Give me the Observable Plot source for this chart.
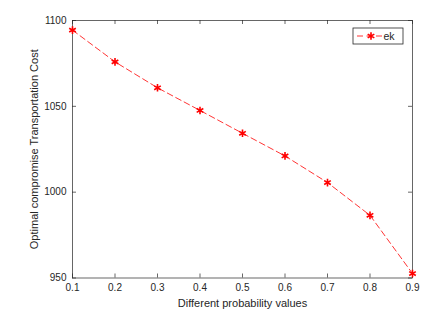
<!DOCTYPE html>
<html>
<head>
<meta charset="utf-8">
<script src="https://cdn.jsdelivr.net/npm/d3@7"></script>
<script src="https://cdn.jsdelivr.net/npm/@observablehq/plot@0.6"></script>
<style>
  html, body { margin: 0; padding: 0; background: #fff; }
</style>
</head>
<body>
<div id="chart"></div>
<script>
const probabilities = [0.1, 0.2, 0.3, 0.4, 0.5, 0.6, 0.7, 0.8, 0.9];
const costs = [1094.4, 1075.9, 1060.8, 1047.6, 1034.3, 1021.1, 1005.6, 986.5, 952.6];
const seriesName = "ek";
const xTicks = [0.1, 0.2, 0.3, 0.4, 0.5, 0.6, 0.7, 0.8, 0.9];
const yTicks = [950, 1000, 1050, 1100];
const xLabel = "Different probability values";
const yLabel = "Optimal compromise Transportation Cost";

const data = probabilities.map((p, i) => ({p, c: costs[i]}));

const W = 443, H = 325;
const mL = 72, mR = 31, mT = 20, mB = 47.5;
const plotW = W - mL - mR, plotH = H - mT - mB;
const tickLen = 4;
const axisColor = "#262626";

const chart = Plot.plot({
  width: W,
  height: H,
  marginLeft: mL,
  marginRight: mR,
  marginTop: mT,
  marginBottom: mB,
  style: {fontFamily: "'Liberation Sans', Arial, sans-serif", fontSize: "10px", background: "#fff", color: axisColor},
  x: {domain: [0.1, 0.9]},
  y: {domain: [950, 1100]},
  marks: [
    Plot.frame({stroke: axisColor, strokeWidth: 0.7}),
    Plot.axisX({ticks: xTicks, tickSize: 0, tickPadding: 5.5, tickFormat: d3.format(".1f"), label: null, fill: axisColor}),
    Plot.axisY({ticks: yTicks, tickSize: 0, tickPadding: 6, tickFormat: d3.format("d"), label: null, fill: axisColor}),
    Plot.tickX(xTicks, {x: d => d, insetTop: plotH - tickLen, stroke: axisColor, strokeWidth: 0.7}),
    Plot.tickX(xTicks, {x: d => d, insetBottom: plotH - tickLen, stroke: axisColor, strokeWidth: 0.7}),
    Plot.tickY(yTicks, {y: d => d, insetRight: plotW - tickLen, stroke: axisColor, strokeWidth: 0.7}),
    Plot.tickY(yTicks, {y: d => d, insetLeft: plotW - tickLen, stroke: axisColor, strokeWidth: 0.7}),
    Plot.text([xLabel], {frameAnchor: "bottom", dy: 25, lineAnchor: "middle", textAnchor: "middle", fontSize: 11, fill: axisColor}),
    Plot.text([yLabel], {frameAnchor: "left", dx: -38, rotate: -90, lineAnchor: "middle", textAnchor: "middle", fontSize: 11, fill: axisColor}),
    Plot.line(data, {x: "p", y: "c", stroke: "red", strokeWidth: 0.8, strokeDasharray: "6,3.5"}),
    Plot.dot(data, {x: "p", y: "c", symbol: "asterisk", r: 3.6, stroke: "red", strokeWidth: 1.6})
  ]
});

// Legend box (MATLAB style, inside top-right of axes)
const svg = d3.select(chart);
const right = W - mR;
const bx = right - 59, by = mT + 8, bw = 50, bh = 16;
const lg = svg.append("g").attr("class", "legend");
lg.append("rect").attr("x", bx).attr("y", by).attr("width", bw).attr("height", bh)
  .attr("fill", "#fff").attr("stroke", axisColor).attr("stroke-width", 0.8);
lg.append("line").attr("x1", bx + 4).attr("x2", bx + 30).attr("y1", by + bh / 2).attr("y2", by + bh / 2)
  .attr("stroke", "red").attr("stroke-width", 0.8).attr("stroke-dasharray", "6,3.5");
const sym = d3.symbol(d3.symbolAsterisk, Math.PI * 3.6 * 3.6);
lg.append("path").attr("d", sym()).attr("transform", `translate(${bx + 18},${by + bh / 2})`)
  .attr("fill", "none").attr("stroke", "red").attr("stroke-width", 1.6);
lg.append("text").attr("x", bx + 36).attr("y", by + bh / 2).attr("dy", "0.35em")
  .attr("font-family", "'Liberation Sans', Arial, sans-serif").attr("font-size", 10.5)
  .attr("fill", axisColor).text(seriesName);

document.getElementById("chart").appendChild(chart);
</script>
</body>
</html>
